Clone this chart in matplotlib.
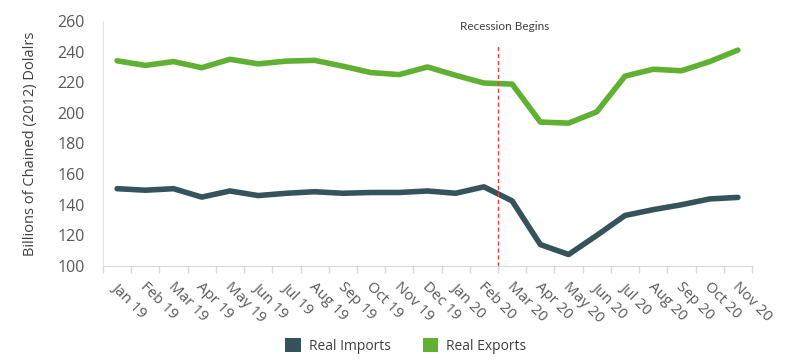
import matplotlib
matplotlib.use("Agg")
import matplotlib.pyplot as plt
from matplotlib.patches import Patch
from matplotlib.transforms import ScaledTranslation
import numpy as np

months = ["Jan 19", "Feb 19", "Mar 19", "Apr 19", "May 19", "Jun 19", "Jul 19", "Aug 19",
          "Sep 19", "Oct 19", "Nov 19", "Dec 19", "Jan 20", "Feb 20", "Mar 20", "Apr 20",
          "May 20", "Jun 20", "Jul 20", "Aug 20", "Sep 20", "Oct 20", "Nov 20"]
real_imports = [150.5, 149.5, 150.5, 145, 149, 146, 147.5, 148.5, 147.5, 148, 148, 149,
                147.5, 151.7, 142.5, 114, 107.5, 120, 133, 136.8, 140, 143.8, 144.8]
real_exports = [234, 231, 233.5, 229.5, 235, 232, 233.8, 234.3, 230.5, 226.3, 225, 230,
                224.5, 219.5, 218.8, 194, 193.3, 200.7, 224, 228.5, 227.5, 233.5, 241]
recession_label = "Recession Begins"

imp_color = "#35535d"
exp_color = "#60b032"
font = "Open Sans"

fig = plt.figure(figsize=(8, 3.64), dpi=100)
ax = fig.add_axes([103/800, 1-266/364, (752-103)/800, (266-21)/364])

x = np.arange(len(months))
ax.plot(x, real_imports, color=imp_color, lw=4, solid_capstyle="round", solid_joinstyle="round")
ax.plot(x, real_exports, color=exp_color, lw=4, solid_capstyle="round", solid_joinstyle="round")

ax.set_xlim(-0.5, len(months) - 0.5)
ax.set_ylim(100, 260)
ax.set_yticks(np.arange(100, 261, 20))

ax.set_xticks(np.arange(-0.5, len(months), 1.0))
ax.set_xticklabels([])
ax.tick_params(axis="x", which="major", length=5, color="#d9d9d9", width=1)

# month labels, rotated downward
off = ScaledTranslation(-3/100, -19/100, fig.dpi_scale_trans)
for i, m in enumerate(months):
    ax.text(i, 0, m, transform=ax.get_xaxis_transform() + off, rotation=-45,
            ha="left", va="center", rotation_mode="anchor", fontsize=10.8,
            color="#595959", family=font, clip_on=False)

ax.tick_params(axis="y", length=0, labelsize=11.5, labelcolor="#595959", pad=13)
for lab in ax.get_yticklabels():
    lab.set_family(font)

for s in ["top", "right"]:
    ax.spines[s].set_visible(False)
ax.spines["left"].set_color("#e3e3e3")
ax.spines["bottom"].set_color("#d9d9d9")

ax.set_ylabel("Billions of Chained (2012) Dolalrs", fontsize=10.5, color="#404040",
              family=font, labelpad=14)

# recession line between Feb 20 and Mar 20
xr = months.index("Feb 20") + 0.5
ax.axvline(xr, ymin=-0.0, ymax=0.9, color="#e8413c", lw=1, ls=(0, (3, 2)), clip_on=False)
ax.text(xr + 0.25, 256.5, recession_label,
        ha="center", va="center", fontsize=8.5, color="#404040", family="Lato")

handles = [Patch(facecolor=imp_color, label="Real Imports"),
           Patch(facecolor=exp_color, label="Real Exports")]
fig.legend(handles=handles, loc="center", bbox_to_anchor=(406/800, 1-346/364), ncol=2,
           frameon=False, prop={"family": font, "size": 10}, handlelength=1.1,
           handleheight=1.1, columnspacing=2.3, handletextpad=0.6, labelcolor="#404040")

fig.savefig("out.png", dpi=100)
